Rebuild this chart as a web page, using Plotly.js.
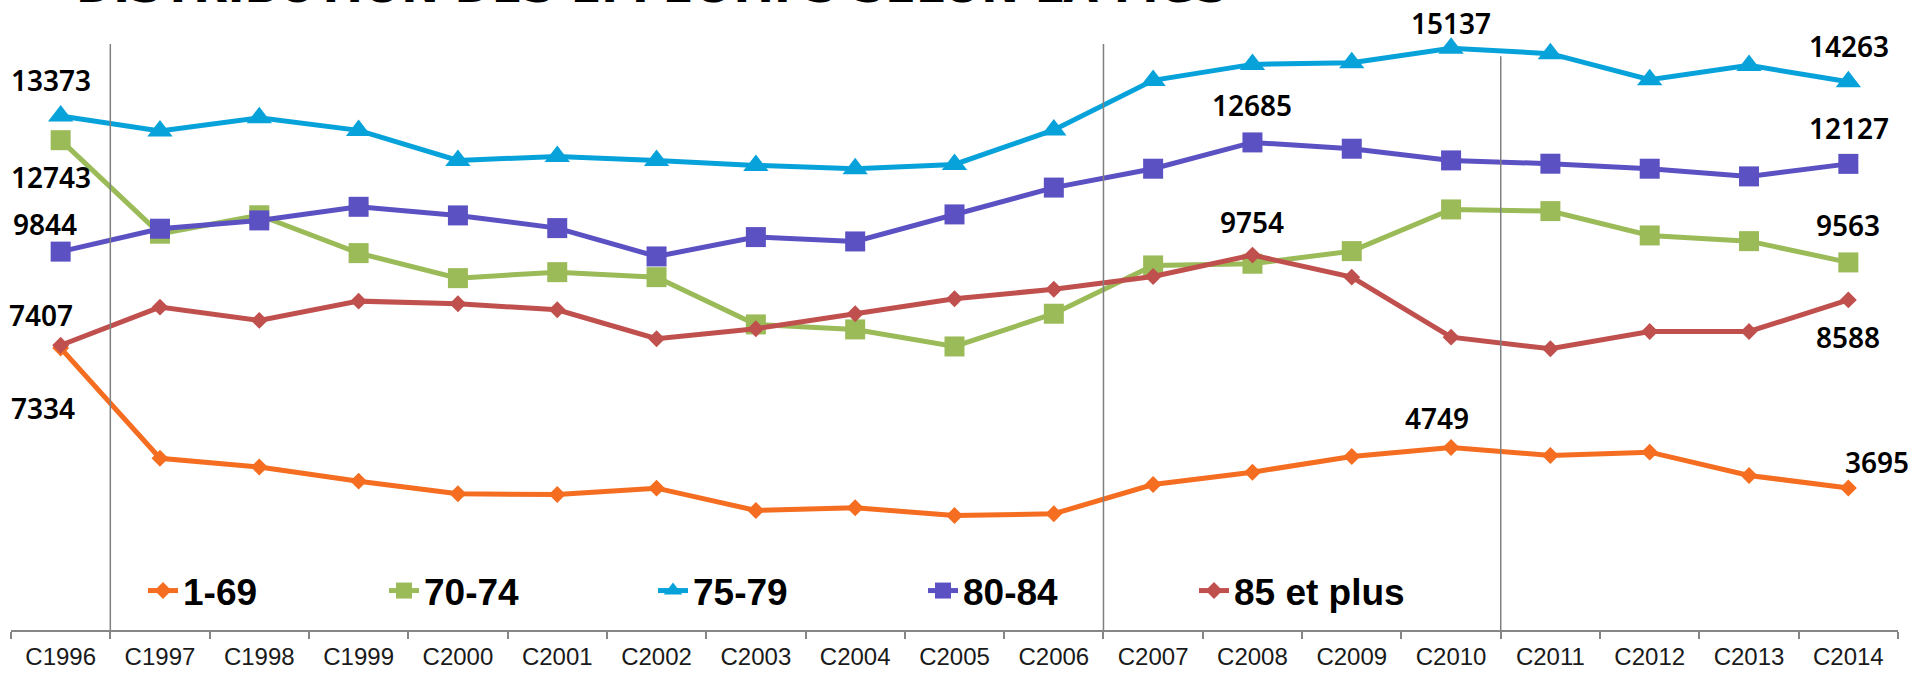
<!DOCTYPE html>
<html>
<head>
<meta charset="utf-8">
<script src="https://cdn.plot.ly/plotly-3.0.1.min.js"></script>
<style>html,body{margin:0;padding:0;background:#fff;}#chart{width:1915px;height:673px;}</style>
</head>
<body>
<div id="chart"></div>
<script>
const categories = ['C1996','C1997','C1998','C1999','C2000','C2001','C2002','C2003','C2004','C2005','C2006','C2007','C2008','C2009','C2010','C2011','C2012','C2013','C2014'];
const seriesNames = ['1-69','70-74','75-79','80-84','85 et plus'];
const s1_69   = [7334, 4468, 4240, 3872, 3544, 3526, 3690, 3110, 3180, 2979, 3024, 3786, 4106, 4515, 4749, 4541, 4627, 4020, 3695];
const s70_74  = [12743, 10310, 10790, 9805, 9154, 9310, 9180, 7950, 7820, 7377, 8228, 9485, 9529, 9857, 10942, 10898, 10265, 10117, 9563];
const s75_79  = [13373, 12980, 13328, 12998, 12217, 12321, 12217, 12087, 12001, 12113, 13010, 14299, 14715, 14759, 15137, 14994, 14317, 14689, 14263];
const s80_84  = [9844, 10440, 10656, 11010, 10786, 10456, 9719, 10222, 10109, 10812, 11510, 12001, 12685, 12521, 12217, 12131, 12001, 11801, 12127];
const s85plus = [7407, 8400, 8054, 8556, 8488, 8332, 7577, 7838, 8228, 8618, 8865, 9198, 9754, 9180, 7619, 7317, 7767, 7767, 8588];
const titleText = 'DISTRIBUTION DES EFFECTIFS SELON LA MGS';

// which points carry a value label: [series index, point index]
const labelSeries = [2, 2, 2, 1, 1, 3, 3, 3, 4, 4, 4, 0, 0, 0];
const labelPoints = [0, 14, 18, 0, 18, 0, 12, 18, 0, 12, 18, 0, 14, 18];

const allSeries = [s1_69, s70_74, s75_79, s80_84, s85plus];
const colors = ['#F46D20', '#9BBB59', '#07A2DA', '#5B51C3', '#C0504D'];
const symbols = ['diamond', 'square', 'triangle-up', 'square', 'diamond'];
const msizes = [13, 20, 22, 20, 13];
const legendWidths = [196, 224, 225, 226, 200];
// label offsets (px): dx right, dy down
const labelDx = [-10, 0, 1, -10, 0, -16, 0, 1, -20, 0, 0, -18, -14, 29];
const labelDy = [-36, -25, -36, 37, -37, -28, -37, -36, -30, -33, 37, 60, -29, -26];

const traces = allSeries.map((vals, i) => ({
  type: 'scatter', mode: 'lines+markers',
  name: seriesNames[i], x: categories, y: vals,
  line: {color: colors[i], width: 5},
  marker: {color: colors[i], symbol: symbols[i], size: msizes[i], line: {width: 0}},
  legendwidth: legendWidths[i],
  hoverinfo: 'x+y+name'
}));

const annotations = labelSeries.map((s, k) => ({
  x: categories[labelPoints[k]], y: allSeries[s][labelPoints[k]],
  xref: 'x', yref: 'y', showarrow: false,
  text: String(allSeries[s][labelPoints[k]]),
  xshift: labelDx[k], yshift: -labelDy[k],
  font: {family: 'Noto Sans, sans-serif', size: 28, color: '#000', weight: 600}
}));
annotations.push({
  xref: 'paper', yref: 'paper', x: 0.034, y: 1, xanchor: 'left', yanchor: 'bottom',
  yshift: 1, showarrow: false, text: '<b>' + titleText + '</b>', borderpad: 0,
  font: {family: 'DejaVu Sans, sans-serif', size: 45, color: '#000'}
});

const sepPos = [0.5, 10.5, 14.5];
const sepTop = [0.953, 0.953, 0.933];
const shapes = sepPos.map((p, i) => ({
  type: 'line', xref: 'x', yref: 'paper', x0: p, x1: p, y0: 0, y1: sepTop[i],
  line: {color: '#808080', width: 1.5}
}));

const layout = {
  width: 1915, height: 673,
  margin: {l: 11, r: 17, t: 15, b: 43},
  paper_bgcolor: '#fff', plot_bgcolor: '#fff',
  showlegend: true,
  legend: {orientation: 'h', x: (143 - 11) / 1887, xanchor: 'left', y: 0.0634, yanchor: 'middle',
           font: {family: 'Liberation Sans, Arial, sans-serif', size: 37, color: '#000', weight: 'bold'},
           bgcolor: 'rgba(0,0,0,0)', itemclick: false, tracegroupgap: 0},
  xaxis: {type: 'category', range: [-0.5, 18.5], showgrid: false, zeroline: false,
          showline: true, linecolor: '#868686', linewidth: 2,
          ticks: 'outside', tickson: 'boundaries', ticklen: 7, tickwidth: 2, tickcolor: '#868686',
          ticklabelstandoff: 4,
          tickfont: {family: 'Liberation Sans, Arial, sans-serif', size: 24, color: '#1a1a1a'},
          fixedrange: true},
  yaxis: {range: [0, 16000], visible: false, showgrid: false, zeroline: false, fixedrange: true},
  annotations: annotations,
  shapes: shapes
};

Plotly.newPlot('chart', traces, layout, {displayModeBar: false, staticPlot: true});
</script>
</body>
</html>
